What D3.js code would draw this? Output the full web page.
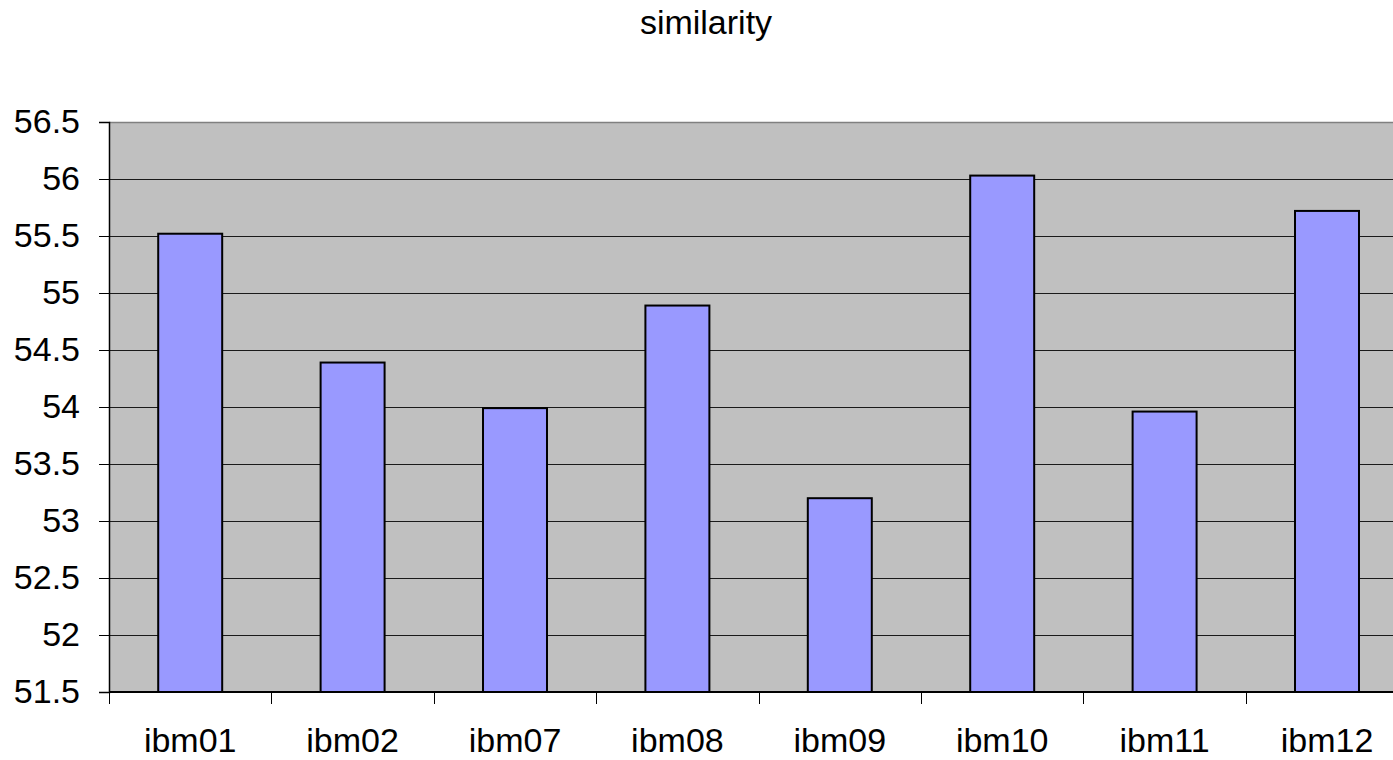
<!DOCTYPE html>
<html>
<head>
<meta charset="utf-8">
<script src="https://cdn.jsdelivr.net/npm/d3@7"></script>
<style>
  body { margin: 0; background: #fff; }
  svg { display: block; }
</style>
</head>
<body>
<div id="vis"></div>
<script>
const categories = ['ibm01', 'ibm02', 'ibm07', 'ibm08', 'ibm09', 'ibm10', 'ibm11', 'ibm12'];
const similarity = [55.52, 54.39, 53.99, 54.89, 53.20, 56.03, 53.96, 55.72];
const yTicks = [51.5, 52, 52.5, 53, 53.5, 54, 54.5, 55, 55.5, 56, 56.5];

const width = 1393;
const height = 760;
const plotLeft = 109, plotTop = 122, plotBottom = 692;
const step = 162.4;
const plotRight = plotLeft + step * categories.length; // runs past the window edge
const font = 'Liberation Sans, Arial, sans-serif';

const svg = d3.select('#vis')
    .append('svg')
    .attr('width', width)
    .attr('height', height);

const x = d3.scaleBand()
    .domain(categories)
    .range([plotLeft, plotRight])
    .padding(0);

const y = d3.scaleLinear()
    .domain([51.5, 56.5])
    .range([plotBottom, plotTop]);

// plot background
svg.append('rect')
    .attr('x', plotLeft)
    .attr('y', plotTop)
    .attr('width', plotRight - plotLeft)
    .attr('height', plotBottom - plotTop)
    .attr('fill', '#c0c0c0');

// gridlines
svg.append('g')
    .selectAll('line')
    .data(yTicks.slice(1, -1))
    .join('line')
    .attr('x1', plotLeft)
    .attr('x2', plotRight)
    .attr('y1', d => Math.round(y(d)) + 0.5)
    .attr('y2', d => Math.round(y(d)) + 0.5)
    .attr('stroke', '#1a1a1a')
    .attr('stroke-width', 1);

// top border
svg.append('line')
    .attr('x1', plotLeft)
    .attr('x2', plotRight)
    .attr('y1', plotTop + 0.5)
    .attr('y2', plotTop + 0.5)
    .attr('stroke', '#808080')
    .attr('stroke-width', 1.5);

// bars
const barFrac = 0.394;
svg.append('g')
    .selectAll('rect')
    .data(categories)
    .join('rect')
    .attr('x', d => x(d) + x.bandwidth() * (1 - barFrac) / 2)
    .attr('y', (d, i) => y(similarity[i]))
    .attr('width', x.bandwidth() * barFrac)
    .attr('height', (d, i) => plotBottom - y(similarity[i]))
    .attr('fill', '#9999ff')
    .attr('stroke', '#000')
    .attr('stroke-width', 2);

// y axis
const yAxis = d3.axisLeft(y)
    .tickValues(yTicks)
    .tickSize(10)
    .tickPadding(19)
    .tickFormat(d => d3.format('')(d));

const gy = svg.append('g')
    .attr('transform', `translate(${plotLeft},0)`)
    .call(yAxis);
gy.select('.domain').attr('stroke', '#000').attr('stroke-width', 1.5);
gy.selectAll('.tick line').attr('stroke', '#000');
gy.selectAll('.tick text')
    .attr('font-family', font)
    .attr('font-size', '34px')
    .attr('fill', '#000');

// x axis with ticks between categories
const gx = svg.append('g')
    .attr('transform', `translate(0,${plotBottom})`);
gx.append('line')
    .attr('x1', plotLeft)
    .attr('x2', plotRight)
    .attr('y1', 0)
    .attr('y2', 0)
    .attr('stroke', '#000')
    .attr('stroke-width', 2);
gx.selectAll('line.tk')
    .data(d3.range(categories.length + 1))
    .join('line')
    .attr('class', 'tk')
    .attr('x1', i => Math.round(plotLeft + i * x.step()) + 0.5)
    .attr('x2', i => Math.round(plotLeft + i * x.step()) + 0.5)
    .attr('y1', 0)
    .attr('y2', 12)
    .attr('stroke', '#000');
gx.selectAll('text')
    .data(categories)
    .join('text')
    .attr('x', d => x(d) + x.bandwidth() / 2)
    .attr('y', 60)
    .attr('text-anchor', 'middle')
    .attr('font-family', font)
    .attr('font-size', '34px')
    .attr('fill', '#000')
    .text(d => d);

// title
svg.append('text')
    .attr('x', 706)
    .attr('y', 34)
    .attr('text-anchor', 'middle')
    .attr('font-family', font)
    .attr('font-size', '34px')
    .attr('fill', '#000')
    .text('similarity');
</script>
</body>
</html>
